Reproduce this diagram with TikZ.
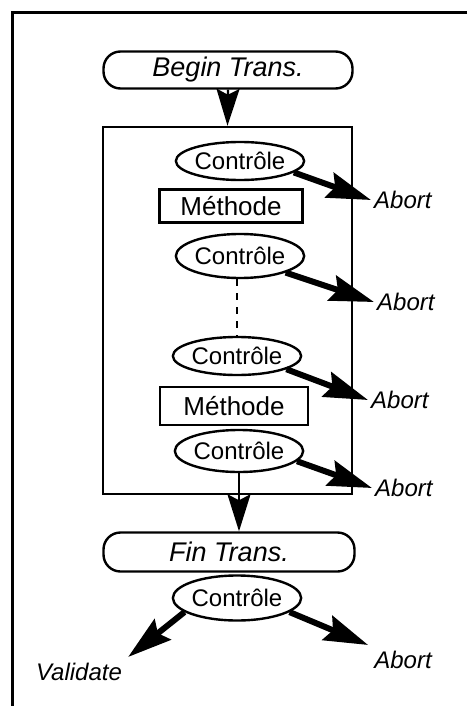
\documentclass[tikz,border=0pt]{standalone}
\usepackage{fontspec}
\setmainfont{Liberation Sans}
\usetikzlibrary{shapes.geometric, arrows.meta}
\begin{document}
\begin{tikzpicture}[x = 1pt, y = -1pt, line width = 2.4pt,
    ctrl/.style = {draw, ellipse, inner sep = 0pt, font = \fontsize{24}{28}\selectfont},
    methode/.style = {draw, rectangle, inner sep = 0pt, font = \fontsize{26}{30}\selectfont},
    trans/.style = {draw, rectangle, rounded corners = 17pt, inner sep = 0pt, font = \fontsize{27}{32}\selectfont\itshape},
    abortlbl/.style = {inner sep = 2pt, font = \fontsize{24}{28}\selectfont\itshape},
    abortarrow/.style = {line width = 6pt, -{Stealth[length = 44pt, width = 26pt, inset = 6pt]}},
    flowarrow/.style = {-{Stealth[length = 37pt, width = 23pt, inset = 6pt]}}]
      \useasboundingbox (0, 0) rectangle (467, 706);
      \draw[line width = 3pt] (467, 13) -- (12, 13) -- (12, 706);
      \node[trans, minimum width = 249pt, minimum height = 37pt] (begin) at (228, 70) {Begin Trans.};
      \node[draw, minimum width = 249pt, minimum height = 367pt] (box) at (227.5, 310.5) {};
      \node[ctrl, minimum width = 125pt, minimum height = 38pt] (c1) at (240, 161) {Contrôle};
      \node[methode, minimum width = 143pt, minimum height = 33pt] (m1) at (231, 206) {Méthode};
      \node[ctrl, minimum width = 125pt, minimum height = 44pt] (c2) at (240, 256) {Contrôle};
      \node[ctrl, minimum width = 127pt, minimum height = 38pt] (c3) at (237, 356) {Contrôle};
      \node[methode, minimum width = 148pt, minimum height = 38pt] (m2) at (234, 406) {Méthode};
      \node[ctrl, minimum width = 126pt, minimum height = 42pt] (c4) at (239, 451) {Contrôle};
      \node[trans, minimum width = 251pt, minimum height = 39pt] (fin) at (229, 552) {Fin Trans.};
      \node[ctrl, minimum width = 127pt, minimum height = 45pt] (c5) at (237, 598) {Contrôle};
      \node[abortlbl, anchor = west] (a1) at (371, 200) {Abort};
      \node[abortlbl, anchor = west] (a2) at (374, 302) {Abort};
      \node[abortlbl, anchor = west] (a3) at (368, 400) {Abort};
      \node[abortlbl, anchor = west] (a4) at (372, 488) {Abort};
      \node[abortlbl, inner sep = 5pt] (a5) at (403, 660) {Abort};
      \node[abortlbl, inner sep = 5pt] (val) at (79, 672) {Validate};
      \draw[flowarrow] (begin.south) -- (box.north);
      \draw[flowarrow] (c4.south) -- (c4.south |- fin.north);
      \draw[dash pattern = on 7pt off 7pt] (c3.north |- c2.south) -- (c3.north);
      \draw[abortarrow] (c1.-12) -- (a1.west);
      \draw[abortarrow] (c2.-20) -- (a2.west);
      \draw[abortarrow] (c3.-15) -- (a3.west);
      \draw[abortarrow] (c4.-10) -- (a4.west);
      \draw[abortarrow] (c5.-15) -- (a5.north west);
      \draw[abortarrow] (c5.-165) -- (val.north east);
    \end{tikzpicture}
\end{document}
